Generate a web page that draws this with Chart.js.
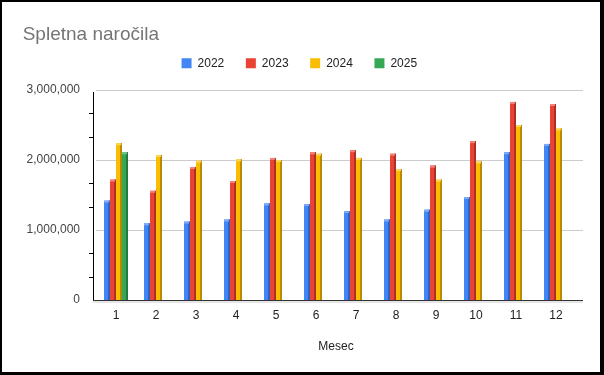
<!DOCTYPE html>
<html lang="sl">
<head>
    <meta charset="UTF-8">
    <title>Spletna naročila</title>
    <script src="https://cdn.jsdelivr.net/npm/chart.js"></script>
    <style>
        body { margin: 0; background: #fff; }
        .frame { position: absolute; left: 0; top: 0; width: 598px; height: 370px;
                 border-style: solid; border-color: #000; border-width: 2px 4px 3px 2px; background: #fff; }
        canvas { display: block; }
    </style>
</head>
<body>
    <div class="frame"><canvas id="barChart" width="598" height="370"></canvas></div>

    <script>
        const months = ['1', '2', '3', '4', '5', '6', '7', '8', '9', '10', '11', '12'];
        const sales2022 = [1420000, 1095000, 1120000, 1150000, 1380000, 1370000, 1270000, 1150000, 1290000, 1470000, 2110000, 2230000];
        const sales2023 = [1720000, 1560000, 1900000, 1700000, 2030000, 2110000, 2140000, 2090000, 1920000, 2270000, 2830000, 2800000];
        const sales2024 = [2240000, 2070000, 1990000, 2010000, 2000000, 2090000, 2030000, 1870000, 1720000, 1980000, 2500000, 2450000];
        const sales2025 = [2110000, null, null, null, null, null, null, null, null, null, null, null];
        const yTicks = [0, 333333, 666667, 1000000, 1333333, 1666667, 2000000, 2333333, 2666667, 3000000];
        const yLabels = [0, 1000000, 2000000, 3000000];

        const FONT = "Arial, 'Liberation Sans', sans-serif";
        const sides = ['#2f63c0', '#ad2f26', '#b98a00', '#237a3c'];
        const tops = ['#80aaf7', '#f2837a', '#fdd45c', '#72c58b'];

        // fake 3D look: darker right side + lighter cap on each bar
        const bar3d = {
            id: 'bar3d',
            afterDatasetsDraw(chart) {
                const ctx = chart.ctx;
                chart.data.datasets.forEach((ds, i) => {
                    chart.getDatasetMeta(i).data.forEach((bar, j) => {
                        if (ds.data[j] == null) return;
                        const left = bar.x - bar.width / 2;
                        const h = bar.base - bar.y;
                        ctx.fillStyle = sides[i];
                        ctx.fillRect(left + bar.width - 2, bar.y, 2, h);
                        ctx.fillStyle = tops[i];
                        ctx.fillRect(left, bar.y, bar.width - 1, 2);
                    });
                });
            }
        };

        // grid, axis line and minor ticks like the sheets chart
        const sheetGrid = {
            id: 'sheetGrid',
            beforeDatasetsDraw(chart) {
                const ctx = chart.ctx;
                const y = chart.scales.y;
                const area = chart.chartArea;
                const x0 = area.left - 3, x1 = area.right + 7;
                ctx.save();
                ctx.fillStyle = '#cccccc';
                yLabels.forEach(v => {
                    if (v === 0) return;
                    ctx.fillRect(x0 + 3, Math.round(y.getPixelForValue(v)), x1 - x0 - 3, 1);
                });
                ctx.fillStyle = '#000';
                ctx.fillRect(x0, area.top + 2, 1, area.bottom - area.top);
                yTicks.forEach(v => {
                    if (yLabels.includes(v)) return;
                    ctx.fillRect(x0 - 4, Math.round(y.getPixelForValue(v)), 4, 1);
                });
                ctx.restore();
            },
            afterDatasetsDraw(chart) {
                const ctx = chart.ctx;
                const y = chart.scales.y;
                const area = chart.chartArea;
                const base = Math.round(y.getPixelForValue(0));
                ctx.fillStyle = '#e6e6e6';
                ctx.fillRect(area.left - 3, base + 1, area.right - area.left + 10, 2);
                ctx.fillStyle = '#333';
                ctx.fillRect(area.left - 3, base, area.right - area.left + 10, 1);
            }
        };

        const chartTitle = {
            id: 'chartTitle',
            afterDraw(chart) {
                const ctx = chart.ctx;
                ctx.save();
                ctx.font = '19px ' + FONT;
                ctx.fillStyle = '#757575';
                ctx.textBaseline = 'alphabetic';
                ctx.fillText('Spletna naročila', 20.7, 37.5);
                ctx.restore();
            }
        };

        const ctx = document.getElementById('barChart').getContext('2d');
        new Chart(ctx, {
            type: 'bar',
            data: {
                labels: months,
                datasets: [
                    { label: '2022', data: sales2022, backgroundColor: '#4285F4' },
                    { label: '2023', data: sales2023, backgroundColor: '#EA4335' },
                    { label: '2024', data: sales2024, backgroundColor: '#FBBC04' },
                    { label: '2025', data: sales2025, backgroundColor: '#34A853' }
                ]
            },
            options: {
                responsive: false,
                animation: false,
                devicePixelRatio: 1,
                categoryPercentage: 0.6,
                barPercentage: 1.0,
                layout: { padding: { top: 33.7, left: 20.7, right: 24, bottom: 0 } },
                plugins: {
                    legend: {
                        position: 'top',
                        labels: {
                            boxWidth: 10, boxHeight: 10, padding: 21.6,
                            color: '#222', font: { family: FONT, size: 12 }
                        }
                    },
                    tooltip: { enabled: false }
                },
                scales: {
                    x: {
                        grid: { display: false, drawTicks: false },
                        border: { display: false },
                        ticks: { color: '#222', padding: 8, font: { family: FONT, size: 12 } },
                        title: {
                            display: true, text: 'Mesec', color: '#222',
                            font: { family: FONT, size: 12 }, padding: { top: 10, bottom: 18.3 }
                        },
                        afterFit: s => { s.height = 72; }
                    },
                    // empty spacer between legend and plot
                    xTop: {
                        type: 'category', axis: 'x', position: 'top',
                        grid: { display: false, drawTicks: false },
                        border: { display: false },
                        ticks: { display: false },
                        afterFit: s => { s.height = 10.7; }
                    },
                    y: {
                        min: 0, max: 3000000,
                        grid: { display: false, drawTicks: false },
                        border: { display: false },
                        ticks: {
                            color: '#444', padding: 16, font: { family: FONT, size: 12 },
                            callback: v => yLabels.includes(v) ? v.toLocaleString('en-US') : ''
                        },
                        afterBuildTicks: s => { s.ticks = yTicks.map(v => ({ value: v })); },
                        afterFit: s => { s.width = 73.3; }
                    }
                }
            },
            plugins: [sheetGrid, bar3d, chartTitle]
        });
    </script>
</body>
</html>
